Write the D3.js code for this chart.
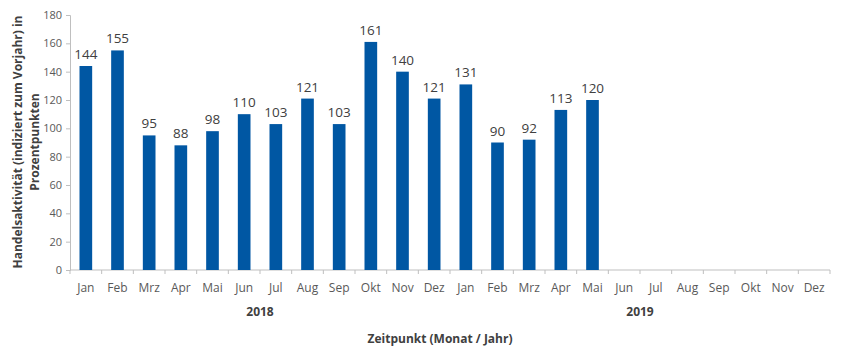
<!DOCTYPE html>
<html>
<head>
<meta charset="utf-8">
<script src="https://cdn.jsdelivr.net/npm/d3@7"></script>
<style>
  body { margin: 0; background: #fff; }
  svg text { font-family: "Open Sans", "DejaVu Sans", sans-serif; }
</style>
</head>
<body>
<div id="chart"></div>
<script>
const months = ["Jan", "Feb", "Mrz", "Apr", "Mai", "Jun", "Jul", "Aug", "Sep", "Okt", "Nov", "Dez"];
const years = ["2018", "2019"];
const values = [144, 155, 95, 88, 98, 110, 103, 121, 103, 161, 140, 121,
                131, 90, 92, 113, 120, null, null, null, null, null, null, null];
const yTicks = [0, 20, 40, 60, 80, 100, 120, 140, 160, 180];

const data = [];
years.forEach((y, yi) => months.forEach((m, mi) => {
    data.push({ key: y + "-" + m, month: m, year: y, value: values[yi * 12 + mi] });
}));

const W = 846, H = 352;
const margin = { top: 15, right: 16, bottom: 82, left: 70 };
const width = W - margin.left - margin.right;
const height = H - margin.top - margin.bottom;

const svg = d3.select("#chart").append("svg")
    .attr("width", W)
    .attr("height", H);

const g = svg.append("g")
    .attr("transform", `translate(${margin.left},${margin.top})`);

const x = d3.scaleBand()
    .domain(data.map(d => d.key))
    .range([0, width])
    .paddingInner(0.6)
    .paddingOuter(0.3);

const y = d3.scaleLinear()
    .domain([0, 180])
    .range([height, 0]);

const axisColor = "#bfbfbf";
const textColor = "#595959";

// y axis
const yAxis = g.append("g")
    .call(d3.axisLeft(y).tickValues(yTicks).tickSize(4).tickPadding(4));
yAxis.selectAll("path, line").attr("stroke", axisColor);
yAxis.selectAll("text").attr("fill", textColor).style("font-size", "11px");

// x axis: ticks on band boundaries
const xAxisG = g.append("g").attr("transform", `translate(0,${height})`);
xAxisG.append("line")
    .attr("x1", 0).attr("x2", width)
    .attr("stroke", axisColor);
const step = x.step();
xAxisG.selectAll(".tk")
    .data(d3.range(data.length + 1))
    .enter().append("line")
    .attr("x1", i => i * step).attr("x2", i => i * step)
    .attr("y1", 0).attr("y2", 4)
    .attr("stroke", axisColor);
xAxisG.selectAll(".mlab")
    .data(data)
    .enter().append("text")
    .attr("x", d => x(d.key) + x.bandwidth() / 2)
    .attr("y", 22)
    .attr("text-anchor", "middle")
    .attr("fill", textColor)
    .style("font-size", "12px")
    .text(d => d.month);
xAxisG.selectAll(".ylab")
    .data(years)
    .enter().append("text")
    .attr("x", (d, i) => (i * 12 + 6) * step)
    .attr("y", 46)
    .attr("text-anchor", "middle")
    .attr("fill", "#404040")
    .style("font-size", "12px")
    .style("font-weight", "bold")
    .text(d => d);

// bars
const barData = data.filter(d => d.value != null);
g.selectAll(".bar")
    .data(barData)
    .enter().append("rect")
    .attr("x", d => x(d.key))
    .attr("y", d => y(d.value))
    .attr("width", x.bandwidth())
    .attr("height", d => height - y(d.value))
    .attr("fill", "#0057a3");

g.selectAll(".val")
    .data(barData)
    .enter().append("text")
    .attr("x", d => x(d.key) + x.bandwidth() / 2)
    .attr("y", d => y(d.value) - 7)
    .attr("text-anchor", "middle")
    .attr("fill", "#404040")
    .style("font-size", "13.5px")
    .text(d => d.value);

// axis titles
svg.append("text")
    .attr("x", margin.left + width / 2 - 10)
    .attr("y", 343)
    .attr("text-anchor", "middle")
    .attr("fill", "#404040")
    .style("font-size", "12px")
    .style("font-weight", "bold")
    .text("Zeitpunkt (Monat / Jahr)");

const yTitle = svg.append("text")
    .attr("transform", "translate(22,142) rotate(-90)")
    .attr("text-anchor", "middle")
    .attr("fill", "#404040")
    .style("font-size", "12px")
    .style("font-weight", "bold");
yTitle.append("tspan").attr("x", 0).attr("dy", 0)
    .text("Handelsaktivität (indiziert zum Vorjahr) in");
yTitle.append("tspan").attr("x", 0).attr("dy", 17)
    .text("Prozentpunkten");
</script>
</body>
</html>
